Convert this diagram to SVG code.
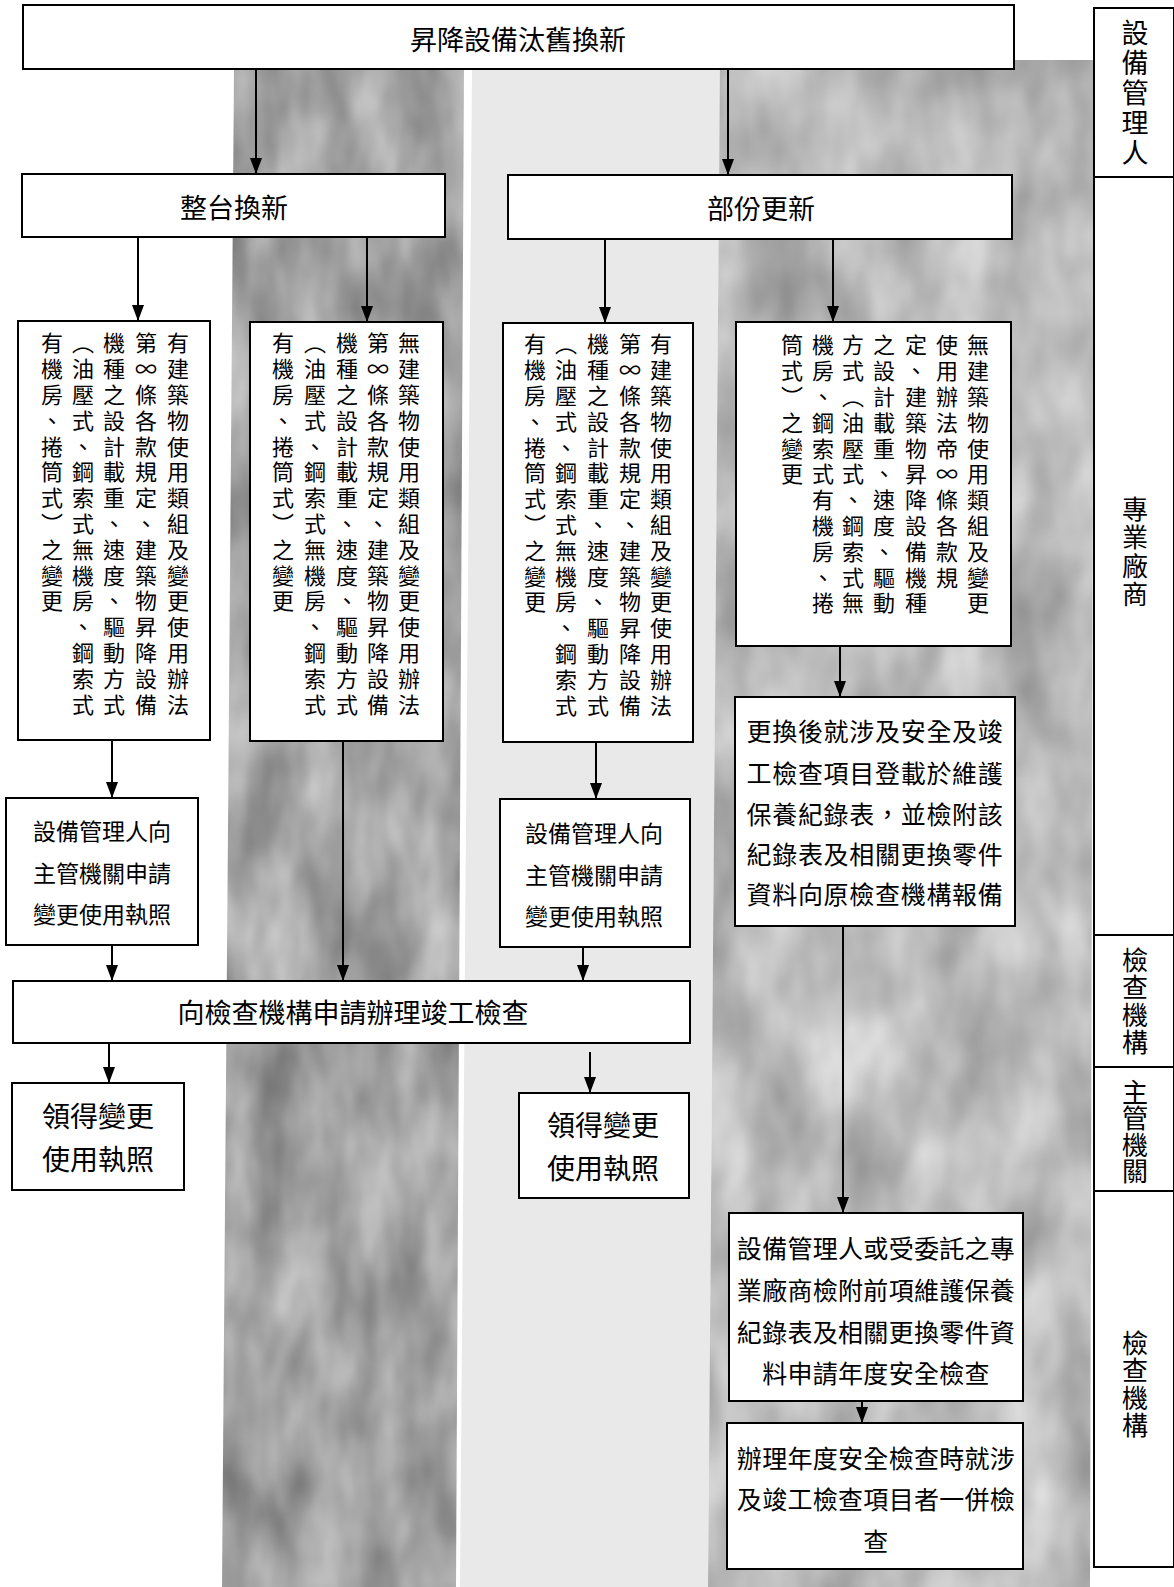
<svg xmlns="http://www.w3.org/2000/svg" width="1174" height="1587" viewBox="0 0 1174 1587">
<style>
.bx{fill:#fff;stroke:#000;stroke-width:2}
.t{font-family:"Noto Sans CJK TC","Noto Sans CJK SC",sans-serif;fill:#000}
.h{text-anchor:middle;dominant-baseline:central}
.v{writing-mode:vertical-rl;text-orientation:upright;font-size:22px;letter-spacing:3.8px}
.lane{writing-mode:vertical-rl;text-orientation:upright;font-size:26px}
.c{stroke:#000;stroke-width:2;fill:none;marker-end:url(#ah)}
</style>
<defs>
<marker id="ah" viewBox="0 0 12 16" refX="6" refY="16" markerWidth="12" markerHeight="16" markerUnits="userSpaceOnUse" orient="0">
<path d="M0,0 L12,0 L6,16 z" fill="#000"/>
</marker>
<filter id="texDark" x="0" y="0" width="100%" height="100%" filterUnits="objectBoundingBox" color-interpolation-filters="sRGB">
<feTurbulence type="fractalNoise" baseFrequency="0.02 0.009" numOctaves="3" seed="4" result="n"/>
<feColorMatrix in="n" type="matrix" values="0.45 0 0 0 0.415  0.45 0 0 0 0.415  0.45 0 0 0 0.415  0 0 0 0 1" result="g"/>
<feComposite in="g" in2="SourceGraphic" operator="in"/>
</filter>
<filter id="texRight" x="0" y="0" width="100%" height="100%" filterUnits="objectBoundingBox" color-interpolation-filters="sRGB">
<feTurbulence type="fractalNoise" baseFrequency="0.016 0.009" numOctaves="3" seed="9" result="n"/>
<feColorMatrix in="n" type="matrix" values="0.4 0 0 0 0.53  0.4 0 0 0 0.53  0.4 0 0 0 0.53  0 0 0 0 1" result="g"/>
<feComposite in="g" in2="SourceGraphic" operator="in"/>
</filter>
</defs>
<rect width="1174" height="1587" fill="#fff"/>
<g id="background">
<polygon points="234,69 464,69 456,1587 222,1587" fill="#a5a5a5" filter="url(#texDark)"/>
<polygon points="472,69 720,69 708,1587 460,1587" fill="#e9e9e9"/>
<polygon points="720,60 1094,60 1090,1587 708,1587" fill="#bababa" filter="url(#texRight)"/>
</g>
<g id="lanes">
<rect x="1094" y="8" width="80" height="1559" fill="#fff" stroke="#000" stroke-width="2"/>
<line x1="1094" y1="177" x2="1174" y2="177" stroke="#000" stroke-width="2"/>
<line x1="1094" y1="935" x2="1174" y2="935" stroke="#000" stroke-width="2"/>
<line x1="1094" y1="1067" x2="1174" y2="1067" stroke="#000" stroke-width="2"/>
<line x1="1094" y1="1191" x2="1174" y2="1191" stroke="#000" stroke-width="2"/>
<text class="t lane" x="1135" y="19" style="font-size:27px;letter-spacing:3px">設備管理人</text>
<text class="t lane" x="1135" y="496" style="letter-spacing:2.5px">專業廠商</text>
<text class="t lane" x="1135" y="947" style="letter-spacing:1.5px">檢查機構</text>
<text class="t lane" x="1135" y="1079" style="letter-spacing:0.5px">主管機關</text>
<text class="t lane" x="1135" y="1330" style="letter-spacing:1.5px">檢查機構</text>
</g>
<g id="connectors">
<line class="c" x1="256" y1="70" x2="256" y2="174"/>
<line class="c" x1="728" y1="70" x2="728" y2="175"/>
<line class="c" x1="138" y1="237" x2="138" y2="321"/>
<line class="c" x1="367" y1="237" x2="367" y2="322"/>
<line class="c" x1="605" y1="239" x2="605" y2="323"/>
<line class="c" x1="833" y1="239" x2="833" y2="322"/>
<line class="c" x1="112" y1="740" x2="112" y2="798"/>
<line class="c" x1="596" y1="742" x2="596" y2="799"/>
<line class="c" x1="840" y1="646" x2="840" y2="697"/>
<line class="c" x1="112" y1="945" x2="112" y2="981"/>
<line class="c" x1="343" y1="741" x2="343" y2="981"/>
<line class="c" x1="583" y1="947" x2="583" y2="981"/>
<line class="c" x1="109" y1="1043" x2="109" y2="1083"/>
<line class="c" x1="590" y1="1052" x2="590" y2="1093"/>
<line class="c" x1="843" y1="926" x2="843" y2="1213"/>
<line class="c" x1="862" y1="1401" x2="862" y2="1423"/>
</g>
<g id="n-top">
<rect class="bx" x="23" y="5" width="991" height="64"/>
<text class="t h" x="518" y="38" font-size="27">昇降設備汰舊換新</text>
</g>
<g id="n-whole">
<rect class="bx" x="22" y="174" width="423" height="63"/>
<text class="t h" x="234" y="206" font-size="27">整台換新</text>
</g>
<g id="n-part">
<rect class="bx" x="508" y="175" width="504" height="64"/>
<text class="t h" x="761" y="207" font-size="27">部份更新</text>
</g>
<g id="n-a">
<rect class="bx" x="18" y="321" width="192" height="419"/>
<text class="t v" x="178" y="332">有建築物使用類組及變更使用辦法</text>
<text class="t v" x="146" y="332">第∞條各款規定、建築物昇降設備</text>
<text class="t v" x="114" y="332">機種之設計載重、速度、驅動方式</text>
<text class="t v" x="83" y="332">（油壓式、鋼索式無機房、鋼索式</text>
<text class="t v" x="52" y="332">有機房、捲筒式）之變更</text>
</g>
<g id="n-b">
<rect class="bx" x="250" y="322" width="193" height="419"/>
<text class="t v" x="409" y="332">無建築物使用類組及變更使用辦法</text>
<text class="t v" x="378" y="332">第∞條各款規定、建築物昇降設備</text>
<text class="t v" x="347" y="332">機種之設計載重、速度、驅動方式</text>
<text class="t v" x="315" y="332">（油壓式、鋼索式無機房、鋼索式</text>
<text class="t v" x="283" y="332">有機房、捲筒式）之變更</text>
</g>
<g id="n-c">
<rect class="bx" x="503" y="323" width="190" height="419"/>
<text class="t v" x="661" y="333">有建築物使用類組及變更使用辦法</text>
<text class="t v" x="630" y="333">第∞條各款規定、建築物昇降設備</text>
<text class="t v" x="598" y="333">機種之設計載重、速度、驅動方式</text>
<text class="t v" x="566" y="333">（油壓式、鋼索式無機房、鋼索式</text>
<text class="t v" x="535" y="333">有機房、捲筒式）之變更</text>
</g>
<g id="n-d">
<rect class="bx" x="736" y="322" width="275" height="324"/>
<text class="t v" x="978" y="334">無建築物使用類組及變更</text>
<text class="t v" x="947" y="334">使用辦法帝∞條各款規</text>
<text class="t v" x="916" y="334">定、建築物昇降設備機種</text>
<text class="t v" x="884" y="334">之設計載重、速度、驅動</text>
<text class="t v" x="853" y="334">方式（油壓式、鋼索式無</text>
<text class="t v" x="823" y="334">機房、鋼索式有機房、捲</text>
<text class="t v" x="792" y="334">筒式）之變更</text>
</g>
<g id="n-e">
<rect class="bx" x="6" y="798" width="192" height="147"/>
<text class="t h" font-size="23"><tspan x="102" y="830">設備管理人向</tspan><tspan x="102" y="872">主管機關申請</tspan><tspan x="102" y="913">變更使用執照</tspan></text>
</g>
<g id="n-f">
<rect class="bx" x="500" y="799" width="190" height="148"/>
<text class="t h" font-size="23"><tspan x="594" y="832">設備管理人向</tspan><tspan x="594" y="874">主管機關申請</tspan><tspan x="594" y="915">變更使用執照</tspan></text>
</g>
<g id="n-g">
<rect class="bx" x="13" y="981" width="677" height="62"/>
<text class="t h" x="353" y="1011" font-size="27">向檢查機構申請辦理竣工檢查</text>
</g>
<g id="n-h">
<rect class="bx" x="12" y="1083" width="172" height="107"/>
<text class="t h" font-size="28"><tspan x="98" y="1115">領得變更</tspan><tspan x="98" y="1158">使用執照</tspan></text>
</g>
<g id="n-i">
<rect class="bx" x="519" y="1093" width="170" height="105"/>
<text class="t h" font-size="28"><tspan x="603" y="1124">領得變更</tspan><tspan x="603" y="1167">使用執照</tspan></text>
</g>
<g id="n-j">
<rect class="bx" x="735" y="697" width="280" height="229"/>
<text class="t h" font-size="25" letter-spacing="0.7"><tspan x="875" y="730">更換後就涉及安全及竣</tspan><tspan x="875" y="772">工檢查項目登載於維護</tspan><tspan x="875" y="813">保養紀錄表，並檢附該</tspan><tspan x="875" y="853">紀錄表及相關更換零件</tspan><tspan x="875" y="893">資料向原檢查機構報備</tspan></text>
</g>
<g id="n-k">
<rect class="bx" x="729" y="1213" width="294" height="188"/>
<text class="t h" font-size="25" letter-spacing="0.3"><tspan x="876" y="1247">設備管理人或受委託之專</tspan><tspan x="876" y="1289">業廠商檢附前項維護保養</tspan><tspan x="876" y="1331">紀錄表及相關更換零件資</tspan><tspan x="876" y="1372">料申請年度安全檢查</tspan></text>
</g>
<g id="n-l">
<rect class="bx" x="727" y="1423" width="296" height="146"/>
<text class="t h" font-size="25" letter-spacing="0.3"><tspan x="876" y="1457">辦理年度安全檢查時就涉</tspan><tspan x="876" y="1498">及竣工檢查項目者一併檢</tspan><tspan x="876" y="1540">查</tspan></text>
</g>
</svg>
